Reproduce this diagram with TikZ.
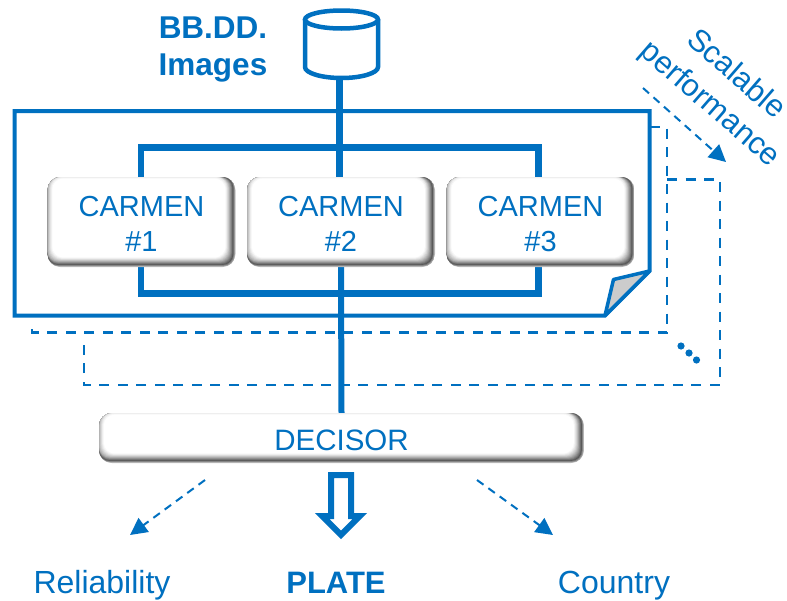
\documentclass[tikz,border=0pt]{standalone}
\usepackage{fontspec}
\setmainfont{Liberation Sans}
\usetikzlibrary{arrows.meta,calc}
\definecolor{blu}{HTML}{0070C0}
\pgfdeclarelayer{back}
\pgfsetlayers{back,main}
\newcommand{\lowertext}[1]{\raisebox{0pt}[\dimexpr\height+10pt][\depth]{\begin{tabular}{@{}c@{}}#1\end{tabular}}}
\tikzset{
  lbl/.style={text=blu,inner sep=0pt,align=center},
  bevelbox/.style={lbl,minimum width=#1,rounded corners=13pt,
    path picture={
      \foreach \i in {0,...,14}{
        \pgfmathsetmacro\k{\i<3 ? 24+14*\i : 66*(1-(\i-3)/11)^1.3}
        \pgfmathsetmacro\rr{0.72*\i}
        \pgfmathsetmacro\bb{0.68*\i}
        \pgfmathsetmacro\ll{max(0,\i-8)*0.8}
        \pgfmathsetmacro\tt{max(0,\i-12)*0.8}
        \fill[black!\k!white,rounded corners=11pt]
          ([xshift=\ll pt,yshift=\bb pt]path picture bounding box.south west)
          rectangle
          ([xshift=-\rr pt,yshift=-\tt pt]path picture bounding box.north east);
      }
    }},
  carmenbox/.style={bevelbox=188pt,minimum height=90pt,font=\fontsize{29}{35.5}\selectfont},
  outline/.style={draw=blu,line width=4pt,line join=miter},
  bus/.style={draw=blu,line width=6.5pt,line join=miter},
  dashframe/.style={draw=blu,line width=2.6pt,dash pattern=on 10pt off 8.5pt},
  dasharrow/.style={draw=blu,line width=2pt,dash pattern=on 8pt off 6pt,
    -{Triangle[length=17pt,width=17pt]}},
  dbnode/.style={minimum width=77pt,minimum height=71pt,inner sep=0pt},
}
\begin{document}
\begin{tikzpicture}[x=1pt,y=-1pt]
\useasboundingbox (0,0) rectangle (787,600);

% nodes
\node[lbl,font=\bfseries\fontsize{31.5}{37}\selectfont] (bbdd) at (213,49) {BB.DD.\\Images};
\node[dbnode] (db) at (341.5,44.5) {};
\node[carmenbox] (c1) at (141.5,222) {\lowertext{CARMEN\\\#1}};
\node[carmenbox] (c2) at (341,222) {\lowertext{CARMEN\\\#2}};
\node[carmenbox] (c3) at (540.5,222) {\lowertext{CARMEN\\\#3}};
\node[bevelbox=485pt,minimum height=50pt,font=\fontsize{29.5}{35}\selectfont] (dec) at (341.5,438) {\lowertext{DECISOR}};
\node[lbl,anchor=base,font=\fontsize{32}{38}\selectfont] (rel) at (102,593) {Reliability};
\node[lbl,anchor=base,font=\bfseries\fontsize{31}{36}\selectfont] (plate) at (336,593) {PLATE};
\node[lbl,anchor=base,font=\fontsize{32}{38}\selectfont] (cty) at (614,593) {Country};
\node[lbl,rotate=-41,font=\fontsize{31}{39.5}\selectfont] (scal) at (722.5,90) {Scalable\\performance};

% free ends of connectors
\coordinate (bustop) at (340,147.5);
\coordinate (busbot) at (340,293.3);
\coordinate (s0) at (643,88);
\coordinate (s1) at (726,162);
\coordinate (l0) at (205,480);
\coordinate (l1) at (130,535);
\coordinate (r0) at (477,480);
\coordinate (r1) at (553,535);

\begin{pgfonlayer}{back}
  \fill[white] (0,0) rectangle (787,600);
  % stacked sheets
  \draw[dashframe] (650,127) -- (667,127) -- (667,332.5) -- (32,332.5) -- (32,322);
  \draw[dashframe] (667,179.5) -- (720,179.5) -- (720,385) -- (84,385) -- (84,337);
  % front sheet with folded corner
  \draw[outline,fill=white] (14.5,111) -- (649.5,111) -- (649.5,271) -- (605,315.5) -- (14.5,315.5) -- cycle;
  \draw[outline,line width=3.5pt,line join=round,fill=black!20] (649.5,271) -- (613.5,279.5) -- (605,315.5) -- cycle;
  % connectors
  \draw[bus] ([xshift=-0.5pt]c1.north) |- (bustop) -| ([xshift=-2pt]c3.north);
  \draw[bus] ([xshift=-0.5pt]c1.south) |- (busbot) -| ([xshift=-2pt]c3.south);
  \draw[bus] ([xshift=-2pt]db.south) -- ([xshift=-1.5pt]c2.north);
  \draw[bus,line width=6pt] (c2.south) -- (dec.north);
\end{pgfonlayer}

% database
\draw[draw=blu,line width=4.5pt,fill=white]
  (305,19.5) -- (305,67) arc[start angle=180,end angle=360,x radius=36.5pt,y radius=11pt] -- (378,19.5);
\draw[draw=blu,line width=4.5pt] (341.5,19.5) ellipse [x radius=36.5pt,y radius=9pt];

\draw[dasharrow] (s0) -- (s1);
\draw[dasharrow] (l0) -- (l1);
\draw[dasharrow] (r0) -- (r1);

% more sheets
\fill[blu] (681,346) circle (3.6pt) (689,353) circle (3.6pt) (696.5,360) circle (3.6pt);

% output arrow
\draw[draw=blu,line width=6pt,miter limit=10,fill=white]
  (331,475) -- (351,475) -- (351,516) -- (359.8,516) -- (341,534.8) -- (322.2,516) -- (331,516) -- cycle;
\end{tikzpicture}
\end{document}
